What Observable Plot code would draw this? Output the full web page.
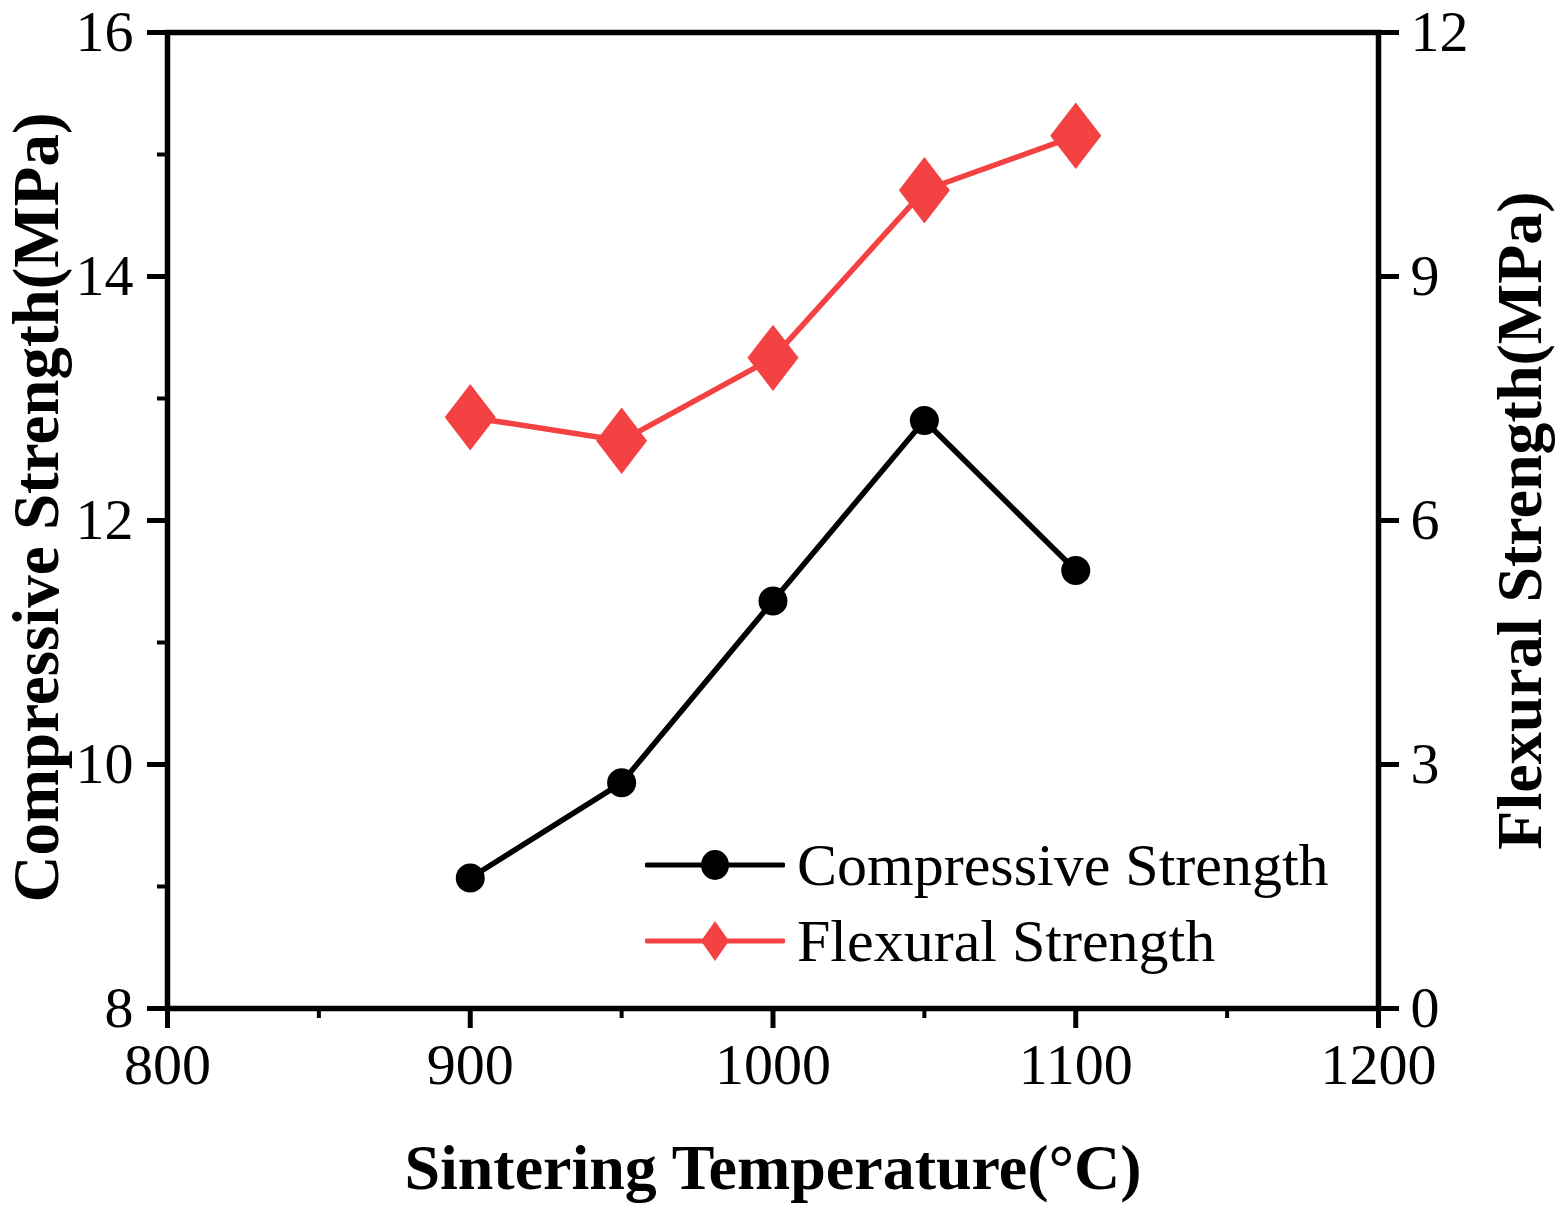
<!DOCTYPE html>
<html>
<head>
<meta charset="utf-8">
<script src="https://cdn.jsdelivr.net/npm/d3@7"></script>
<script src="https://cdn.jsdelivr.net/npm/@observablehq/plot@0.6"></script>
<style>
  body { margin: 0; background: white; }
  #chart { position: relative; width: 1561px; height: 1213px; }
  .legend { position: absolute; left: 645px; top: 827px; font-family: "Liberation Serif", "Times New Roman", serif; font-size: 60px; }
  .legend div { display: flex; align-items: center; height: 76px; }
  .legend span { margin-left: 12px; }
</style>
</head>
<body>
<div id="chart"></div>
<script>
// sintering temperature (°C)
const temps = [900, 950, 1000, 1050, 1100];
// compressive strength, left axis (MPa)
const compressive = [9.07, 9.85, 11.34, 12.82, 11.59];
// flexural strength, right axis (MPa)
const flexural = [7.27, 6.98, 8.0, 10.06, 10.73];

const xTicks = [800, 900, 1000, 1100, 1200];
const xMinor = [850, 950, 1050, 1150];
const leftTicks = [8, 10, 12, 14, 16];
const leftMinor = [9, 11, 13, 15];
const rightTicks = [0, 3, 6, 9, 12];

const seriesNames = ["Compressive Strength", "Flexural Strength"];
const red = "#f44242";

// right axis 0..12 sits on left axis 8..16
const toLeft = v => 8 + v * 8 / 12;
const toRight = v => (v - 8) * 12 / 8;

const compData = temps.map((t, i) => ({t, v: compressive[i]}));
const flexData = temps.map((t, i) => ({t, v: toLeft(flexural[i])}));

// diamond a bit taller than wide, like the original
const tallDiamond = {
  draw(context, size) {
    const w = Math.sqrt(size) * 0.6, h = w * 1.3;
    context.moveTo(0, -h);
    context.lineTo(w, 0);
    context.lineTo(0, h);
    context.lineTo(-w, 0);
    context.closePath();
  }
};

const serif = "'Liberation Serif', 'Times New Roman', serif";
const intFmt = d3.format("d");

let chart = Plot.plot({
  width: 1561,
  height: 1213,
  marginLeft: 167,
  marginRight: 183,
  marginTop: 32,
  marginBottom: 205,
  style: {fontFamily: serif, fontSize: "58px", color: "black", background: "white"},
  x: {domain: [800, 1200]},
  y: {domain: [8, 16]},
  marks: [
    Plot.axisX(xTicks, {tickSize: 20, strokeWidth: 5, tickPadding: 14, fontSize: 58, tickFormat: intFmt, label: null}),
    Plot.axisX(xMinor, {tickSize: 10, strokeWidth: 4, tickFormat: () => "", label: null}),
    Plot.axisY(leftTicks, {anchor: "left", tickSize: 20, strokeWidth: 5, tickPadding: 14, fontSize: 58, tickFormat: intFmt, label: null}),
    Plot.axisY(leftMinor, {anchor: "left", tickSize: 10, strokeWidth: 4, tickFormat: () => "", label: null}),
    Plot.axisY(rightTicks.map(toLeft), {anchor: "right", tickSize: 20, strokeWidth: 5, tickPadding: 12, fontSize: 58,
      tickFormat: d => intFmt(Math.round(toRight(d))), label: null}),
    Plot.frame({stroke: "black", strokeWidth: 5.5}),

    Plot.lineY(compData, {x: "t", y: "v", stroke: "black", strokeWidth: 5.5}),
    Plot.dot(compData, {x: "t", y: "v", r: 14.5, fill: "black"}),
    Plot.lineY(flexData, {x: "t", y: "v", stroke: red, strokeWidth: 5.5}),
    Plot.dot(flexData, {x: "t", y: "v", symbol: tallDiamond, r: 24, fill: red}),

    Plot.text(["Sintering Temperature(°C)"], {frameAnchor: "bottom", dy: 160, lineAnchor: "middle", fontSize: 64, fontWeight: "bold", fontFamily: serif}),
    Plot.text(["Compressive Strength(MPa)"], {frameAnchor: "left", dx: -130, dy: -13, rotate: -90, textAnchor: "middle", lineAnchor: "middle", fontSize: 65, fontWeight: "bold", fontFamily: serif}),
    Plot.text(["Flexural Strength(MPa)"], {frameAnchor: "right", dx: 142, rotate: -90, textAnchor: "middle", lineAnchor: "middle", fontSize: 64, fontWeight: "bold", fontFamily: serif})
  ]
});

d3.select("#chart").append(() => chart);

// legend inside the plot area
const legend = d3.select("#chart").append("div").attr("class", "legend");
const swatches = [
  {name: seriesNames[0], color: "black", shape: "circle"},
  {name: seriesNames[1], color: red, shape: "diamond"}
];
swatches.forEach(s => {
  const row = legend.append("div");
  const svg = row.append("svg").attr("width", 140).attr("height", 50);
  svg.append("line").attr("x1", 2).attr("x2", 138).attr("y1", 25).attr("y2", 25)
    .attr("stroke", s.color).attr("stroke-width", 5).attr("stroke-linecap", "round");
  if (s.shape === "circle") {
    svg.append("ellipse").attr("cx", 70).attr("cy", 25).attr("rx", 14).attr("ry", 15).attr("fill", s.color);
  } else {
    svg.append("path").attr("d", "M70,5L84,25L70,45L56,25Z").attr("fill", s.color);
  }
  row.append("span").text(s.name);
});
</script>
</body>
</html>
